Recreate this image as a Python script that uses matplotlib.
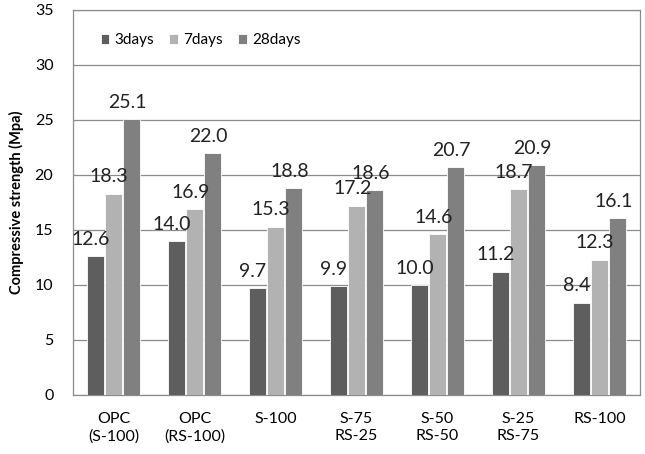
import matplotlib.pyplot as plt
import numpy as np

plt.rcParams['font.family'] = ['Lato', 'DejaVu Sans']

# data
mixes = ['OPC\n(S-100)', 'OPC\n(RS-100)', 'S-100', 'S-75\nRS-25',
         'S-50\nRS-50', 'S-25\nRS-75', 'RS-100']
days3 = [12.6, 14.0, 9.7, 9.9, 10.0, 11.2, 8.4]
days7 = [18.3, 16.9, 15.3, 17.2, 14.6, 18.7, 12.3]
days28 = [25.1, 22.0, 18.8, 18.6, 20.7, 20.9, 16.1]

series = [('3days', days3, '#5e5e5e'),
          ('7days', days7, '#b2b2b2'),
          ('28days', days28, '#808080')]

fig = plt.figure(figsize=(6.45, 4.54), dpi=100)
ax = fig.add_axes([0.113, 0.13, 0.879, 0.848])

x = np.arange(len(mixes))
width = 0.21
offsets = [-0.225, 0.0, 0.225]

for (name, vals, color), off in zip(series, offsets):
    bars = ax.bar(x + off, vals, width=width, color=color,
                  edgecolor='white', linewidth=0.6, label=name, zorder=3)
    for b, v in zip(bars, vals):
        ax.annotate('%.1f' % v,
                    xy=(b.get_x() + b.get_width() / 2, b.get_height()),
                    xytext=(-3, 6), textcoords='offset points',
                    ha='center', va='bottom', fontsize=14, color='#222222',
                    zorder=4)

ax.set_ylim(0, 35)
ax.set_xlim(-0.5, len(mixes) - 0.5)
ax.set_yticks(range(0, 36, 5))
ax.set_xticks(x)
ax.set_xticklabels(mixes, fontsize=11.5, linespacing=1.35)
ax.tick_params(axis='y', length=0, labelsize=11.5, pad=14)
ax.tick_params(axis='x', length=0, pad=12)

ax.yaxis.grid(True, color='#8c8c8c', linewidth=0.9, zorder=0)
for s in ax.spines.values():
    s.set_color('#8c8c8c')
    s.set_linewidth(0.9)

ax.set_ylabel('Compressive strength (Mpa)', fontsize=10.5, fontweight='bold',
              labelpad=8)

ax.legend(loc='upper left', bbox_to_anchor=(0.025, 0.975), ncol=3,
          frameon=False, fontsize=11, handlelength=0.55, handleheight=0.55,
          handletextpad=0.35, columnspacing=1.0)

fig.savefig('out.png', dpi=100)
